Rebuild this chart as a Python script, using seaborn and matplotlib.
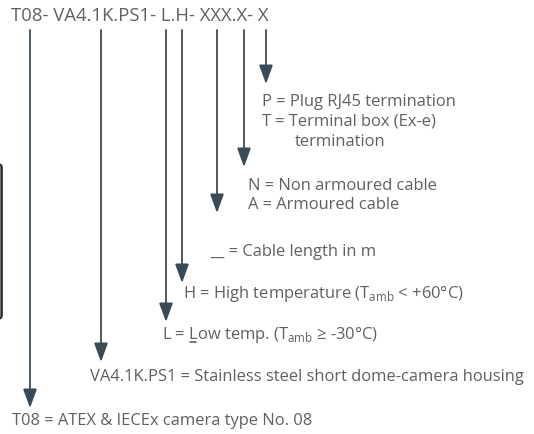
import matplotlib.pyplot as plt
import seaborn as sns
from matplotlib.patches import FancyBboxPatch

# Type code and its breakdown
code_text = "T08- VA4.1K.PS1- L.H- XXX.X- X"
stem_x = [30, 101, 166, 182, 217, 244, 266]
stem_end = [408, 362, 322, 283, 213, 167, 84]

desc_lines = [
    "P = Plug RJ45 termination",
    "T = Terminal box (Ex-e)",
    "termination",
    "N = Non armoured cable",
    "A = Armoured cable",
    "__ = Cable length in m",
    "H = High temperature (T$_{\\mathrm{amb}}$ < +60°C)",
    "L = Low temp. (T$_{\\mathrm{amb}}$ ≥ -30°C)",
    "VA4.1K.PS1 = Stainless steel short dome-camera housing",
    "T08 = ATEX & IECEx camera type No. 08",
]
desc_x = [262, 262, 295, 248, 248, 210, 183, 162, 90, 12]
desc_y = [102, 122, 142, 186, 205, 252, 294, 335, 377, 421]

sns.set_theme(style="white")
plt.rcParams['font.family'] = ['Open Sans', 'DejaVu Sans']
plt.rcParams['mathtext.fontset'] = 'custom'
plt.rcParams['mathtext.rm'] = 'Open Sans'

text_col = '#606060'
arrow_col = '#3a4b57'
fs = 11.9

fig = plt.figure(figsize=(5.34, 4.34), dpi=100)
ax = fig.add_axes([0, 0, 1, 1])
ax.set_xlim(0, 534)
ax.set_ylim(434, 0)
ax.axis('off')

# header code
ax.text(11, 16, code_text, fontsize=13.3, color=text_col, va='center', ha='left')

# stems with arrow heads
for x, y_end in zip(stem_x, stem_end):
    ax.annotate('', xy=(x, y_end), xytext=(x, 30),
                arrowprops=dict(arrowstyle='-|>,head_length=1.15,head_width=0.42',
                                color=arrow_col, lw=1.3, shrinkA=0, shrinkB=0,
                                mutation_scale=10))

# descriptions
for txt, x, y in zip(desc_lines, desc_x, desc_y):
    ax.text(x, y, txt, fontsize=fs, color=text_col, va='center', ha='left')

# underline the "L" of "Low"
fig.canvas.draw()
r = fig.canvas.get_renderer()
probe = ax.text(desc_x[7], desc_y[7], "L = ", fontsize=fs, va='center', ha='left')
full = ax.text(desc_x[7], desc_y[7], "L = L", fontsize=fs, va='center', ha='left')
b1 = probe.get_window_extent(r)
b2 = full.get_window_extent(r)
probe.remove()
full.remove()
inv = ax.transData.inverted()
x0, y0 = inv.transform((b1.x1, b2.y0))
x1, _ = inv.transform((b2.x1, b2.y0))
ax.plot([x0 + 1, x1 - 1], [y0 - 1, y0 - 1], color=text_col, lw=1.2)

# edge of the camera picture on the left
ax.add_patch(FancyBboxPatch((-30, 164), 32, 155, boxstyle='round,pad=0,rounding_size=4',
                            facecolor='#6e6e6e', edgecolor='#222222', lw=1.2, clip_on=True))

fig.savefig('out.png', dpi=100)
